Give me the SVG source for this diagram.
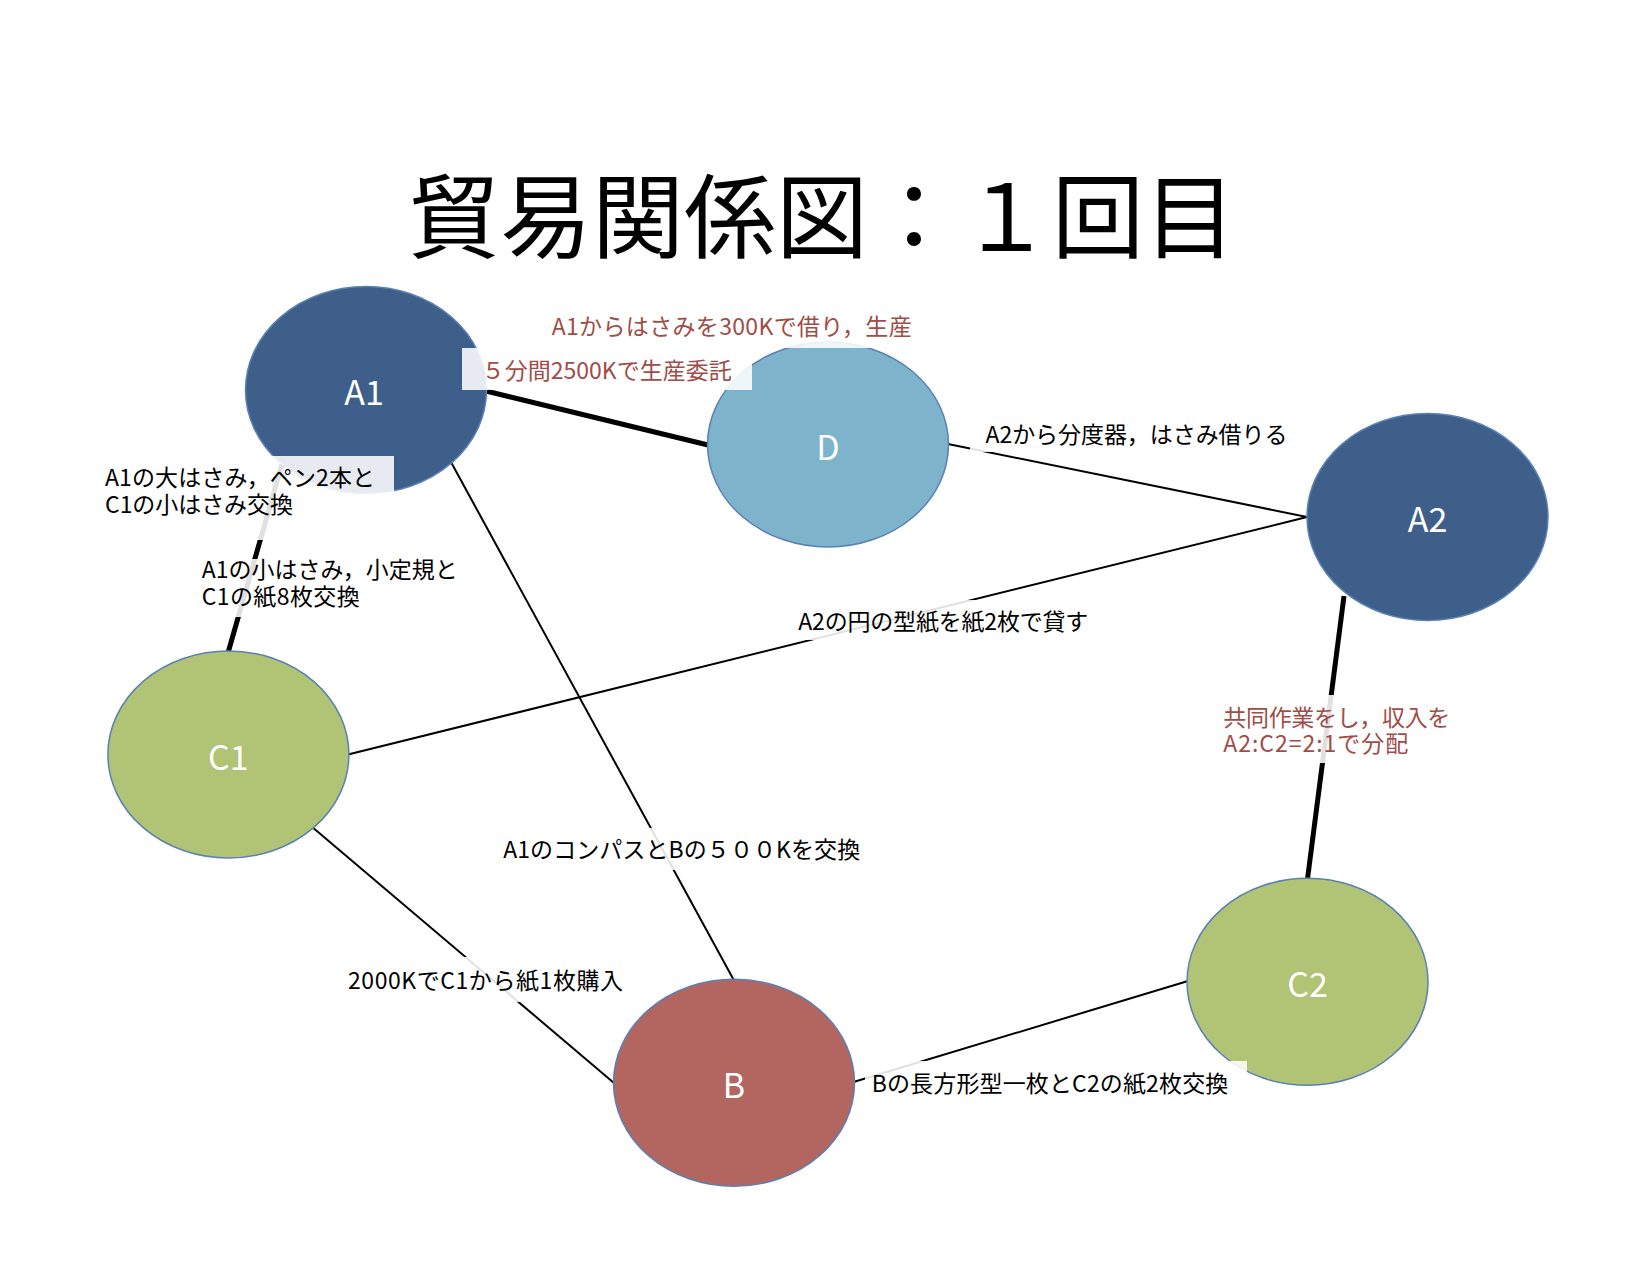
<svg xmlns="http://www.w3.org/2000/svg" width="1650" height="1275" viewBox="0 0 1650 1275">
<style>
.bg{fill:#ffffff}
.node{stroke:#5a80b4;stroke-width:1.5}
.dark{fill:#3f5f8b}
.light{fill:#7eb3cc}
.green{fill:#b1c374}
.red{fill:#b36660}
.nl{font-family:"Noto Sans CJK JP","Noto Sans",sans-serif;font-size:34px;fill:#ffffff;text-anchor:middle}
.thin{stroke:#000;stroke-width:2;fill:none}
.thick{stroke:#000;stroke-width:5;fill:none}
.lb{fill:#ffffff;fill-opacity:0.88}
.t{font-family:"Noto Sans CJK JP","Noto Sans",sans-serif;font-size:23px;fill:#000000}
.tr{font-family:"Noto Sans CJK JP","Noto Sans",sans-serif;font-size:23px;fill:#a04d47}
.title{font-family:"Noto Sans CJK JP","Noto Sans",sans-serif;font-size:92px;fill:#000000;text-anchor:middle}
</style>
<rect class="bg" x="0" y="0" width="1650" height="1275"/>
<text id="title" class="title" x="822" y="251">貿易関係図：１回目</text>
<g id="connectors">
<line class="thick" x1="486" y1="391" x2="708" y2="445"/>
<line class="thin" x1="948" y1="444" x2="1307" y2="517"/>
<line class="thin" x1="1307" y1="517" x2="348" y2="754.5"/>
<line class="thick" x1="1344" y1="596" x2="1307.5" y2="879"/>
<line class="thick" x1="282" y1="464" x2="228.4" y2="651.5"/>
<line class="thin" x1="451.5" y1="463" x2="733.5" y2="979.5"/>
<line class="thin" x1="313.6" y1="828.2" x2="614" y2="1083"/>
<line class="thin" x1="853.5" y1="1082" x2="1188" y2="981"/>
</g>
<g id="node-A1"><ellipse class="node dark" cx="366" cy="390" rx="120.5" ry="103.5"/><text class="nl" x="364" y="405">A1</text></g>
<g id="node-D"><ellipse class="node light" cx="828" cy="444.5" rx="120.5" ry="102.5"/><text class="nl" x="828" y="460">D</text></g>
<g id="node-A2"><ellipse class="node dark" cx="1427.5" cy="517" rx="120.5" ry="103.5"/><text class="nl" x="1427.5" y="532">A2</text></g>
<g id="node-C1"><ellipse class="node green" cx="228.4" cy="754.5" rx="120.5" ry="103.5"/><text class="nl" x="228.4" y="770">C1</text></g>
<g id="node-C2"><ellipse class="node green" cx="1307.5" cy="981.8" rx="120.5" ry="103.5"/><text class="nl" x="1307.5" y="997">C2</text></g>
<g id="node-B"><ellipse class="node red" cx="734" cy="1082.8" rx="120.5" ry="103.5"/><text class="nl" x="734" y="1098">B</text></g>
<g id="labels">
<rect class="lb" x="545" y="314" width="325" height="34"/>
<text class="tr" x="551.7" y="335" textLength="360">A1からはさみを300Kで借り，生産</text>
<rect class="lb" x="462" y="348" width="290" height="42"/>
<text class="tr" x="481.7" y="379" textLength="250">５分間2500Kで生産委託</text>
<rect class="lb" x="95" y="456" width="299" height="84"/>
<text class="t" x="105" y="485.7" textLength="270">A1の大はさみ，ペン2本と</text>
<text class="t" x="105" y="513.3" textLength="188">C1の小はさみ交換</text>
<rect class="lb" x="195" y="559" width="267" height="58"/>
<text class="t" x="201.7" y="577.7" textLength="256">A1の小はさみ，小定規と</text>
<text class="t" x="201.7" y="605" textLength="158">C1の紙8枚交換</text>
<rect class="lb" x="970" y="415" width="330" height="37"/>
<text class="t" x="985.5" y="443" textLength="302">A2から分度器，はさみ借りる</text>
<rect class="lb" x="792" y="600" width="305" height="40"/>
<text class="t" x="798.3" y="630" textLength="290">A2の円の型紙を紙2枚で貸す</text>
<rect class="lb" x="1218" y="695" width="238" height="68"/>
<text class="tr" x="1223.3" y="726" textLength="227">共同作業をし，収入を</text>
<text class="tr" x="1223.3" y="752" textLength="185">A2:C2=2:1で分配</text>
<rect class="lb" x="497" y="828" width="369" height="42"/>
<text class="t" x="503.2" y="858" textLength="357">A1のコンパスとBの５００Kを交換</text>
<rect class="lb" x="342" y="957" width="286" height="45"/>
<text class="t" x="348" y="988.5" textLength="275">2000KでC1から紙1枚購入</text>
<rect class="lb" x="865" y="1061" width="382" height="44"/>
<text class="t" x="871.7" y="1091.7" textLength="356.6">Bの長方形型一枚とC2の紙2枚交換</text>
</g>
</svg>
